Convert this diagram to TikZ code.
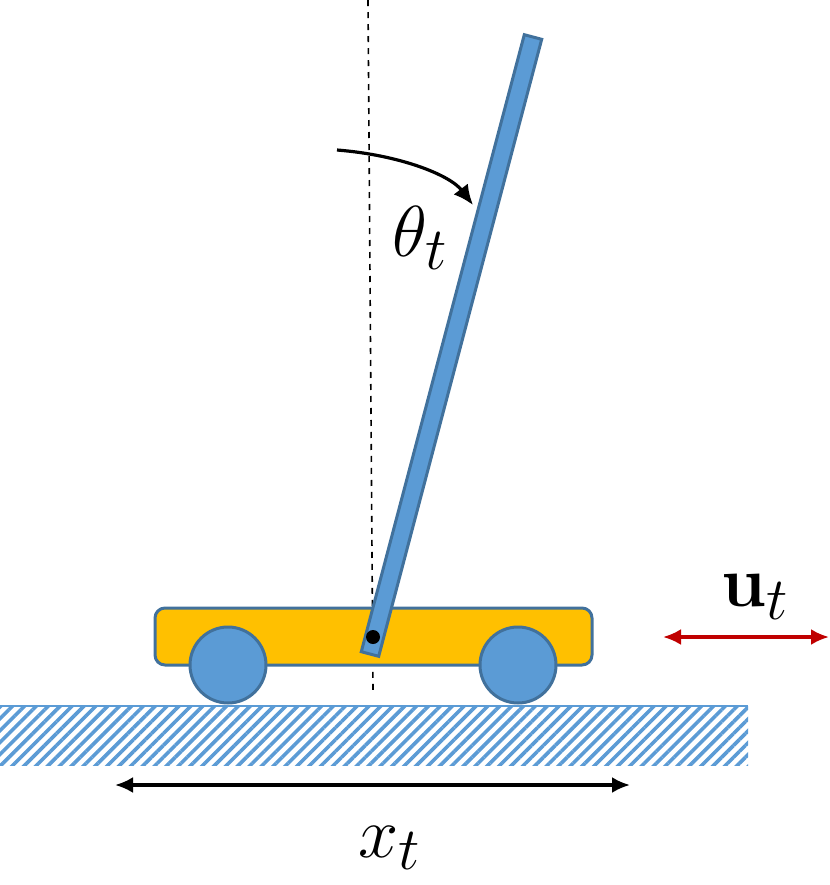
\documentclass[tikz,border=0pt]{standalone}
\usepackage{amsmath}
\usetikzlibrary{arrows.meta,patterns.meta}
\definecolor{poleblue}{HTML}{5B9BD5}
\definecolor{edgeblue}{HTML}{41719C}
\definecolor{cartorange}{HTML}{FFC000}
\definecolor{forcered}{HTML}{C00000}
\begin{document}
\begin{tikzpicture}[x=0.5pt,y=-0.5pt,
    part/.style={draw=edgeblue,line width=1.5pt},
    measure/.style={{Latex[length=9pt,width=8pt]}-{Latex[length=9pt,width=8pt]},line width=1.6pt},
    lbl/.style={font=\Huge,scale=1.45}]
\useasboundingbox (0,0) rectangle (830,885);
% ground
\fill[pattern={Lines[angle=45,distance=4.2pt,line width=1.8pt]},pattern color=poleblue]
    (0,706) rectangle (748,765);
\draw[poleblue,line width=1.2pt] (0,706) -- (748,706);
% vertical reference
\draw[dashed,line width=0.8pt] (368,0) -- (373,690);
% cart and wheels
\draw[part,fill=cartorange,rounded corners=5pt] (155,608) rectangle (592,665);
\draw[part,fill=poleblue] (228,665) circle (38);
\draw[part,fill=poleblue] (518,665) circle (38);
% pole
\draw[part,fill=poleblue] (361.3,651.7) -- (378.7,656.3) -- (541.7,39.3) -- (524.3,34.7) -- cycle;
\node[circle,fill=black,inner sep=0pt,minimum size=7pt] (pivot) at (373,637) {};
% angle
\coordinate (arcstart) at (337,150);
\coordinate (arcend) at (473,205);
\draw[-{Latex[length=10pt,width=9pt]},line width=1.6pt] (arcstart) .. controls (400,155) and (450,175) .. (arcend);
\node[lbl] (theta) at (420,238) {$\theta_t$};
% position
\coordinate (xleft) at (115,785);
\coordinate (xright) at (630,785);
\draw[measure] (xleft) -- (xright);
\node[lbl] (xlabel) at (390,848) {$x_t$};
% force
\coordinate (uleft) at (663,637);
\coordinate (uright) at (829,637);
\draw[measure,forcered] (uleft) -- (uright);
\node[lbl] (ulabel) at (755,597) {$\mathbf{u}_t$};
\end{tikzpicture}
\end{document}
